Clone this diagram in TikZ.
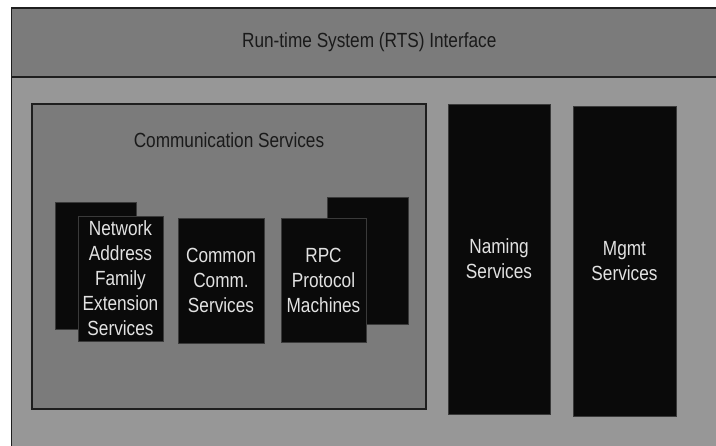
\documentclass[tikz,border=0pt]{standalone}
\usepackage{fontspec}
\setmainfont{Liberation Sans}[FakeStretch=0.84]
\definecolor{bardark}{HTML}{7B7B7B}
\definecolor{barlight}{HTML}{979797}
\definecolor{framec}{HTML}{1E1E1E}
\definecolor{blkc}{HTML}{0A0A0A}
\definecolor{blkedge}{HTML}{3A3A3A}
\definecolor{txtl}{HTML}{E2E2E2}
\definecolor{txtd}{HTML}{1A1A1A}
\begin{document}
\begin{tikzpicture}[x=1pt,y=-1pt,
  panelbox/.style={draw=framec, line width=1.2pt, inner sep=0pt, outer sep=0pt, text=txtd, font=\fontsize{20.5}{25}\selectfont},
  blkbox/.style={fill=blkc, draw=blkedge, line width=0.8pt, inner sep=0pt, outer sep=0pt, text=txtl, align=center, font=\fontsize{20.5}{25}\selectfont},
  lbl/.style={text=txtd, font=\fontsize{20.5}{25}\selectfont, inner sep=0pt}]
\useasboundingbox (0,0) rectangle (716,446);
\clip (0,0) rectangle (716,446);
\fill[white] (0,0) rectangle (716,446);
\node[panelbox, fill=barlight, minimum width=715.5pt, minimum height=383pt] (panel) at (369.25,268.5) {};
\node[panelbox, fill=bardark, minimum width=715.5pt, minimum height=69pt] (rts) at (369.25,42.5) {Run-time System (RTS) Interface};
\node[panelbox, fill=bardark, minimum width=394pt, minimum height=305pt] (comm) at (229,256.5) {};
\node[lbl] (commlbl) at (229,140.5) {Communication Services};
\node[blkbox, minimum width=81pt, minimum height=127pt] (nafback) at (95.5,265.5) {};
\node[blkbox, minimum width=85pt, minimum height=125pt] (naf) at (120.5,278.5) {Network\\Address\\Family\\Extension\\Services};
\node[blkbox, minimum width=86pt, minimum height=125pt] (common) at (221,280.5) {Common\\Comm.\\Services};
\node[blkbox, minimum width=81pt, minimum height=127pt] (rpcback) at (367.5,260.5) {};
\node[blkbox, minimum width=85pt, minimum height=124pt] (rpc) at (323.5,280) {RPC\\Protocol\\Machines};
\node[blkbox, minimum width=102pt, minimum height=310pt] (naming) at (499,259) {Naming\\Services};
\node[blkbox, minimum width=103pt, minimum height=310pt] (mgmt) at (624.5,261) {Mgmt\\Services};
\end{tikzpicture}
\end{document}
